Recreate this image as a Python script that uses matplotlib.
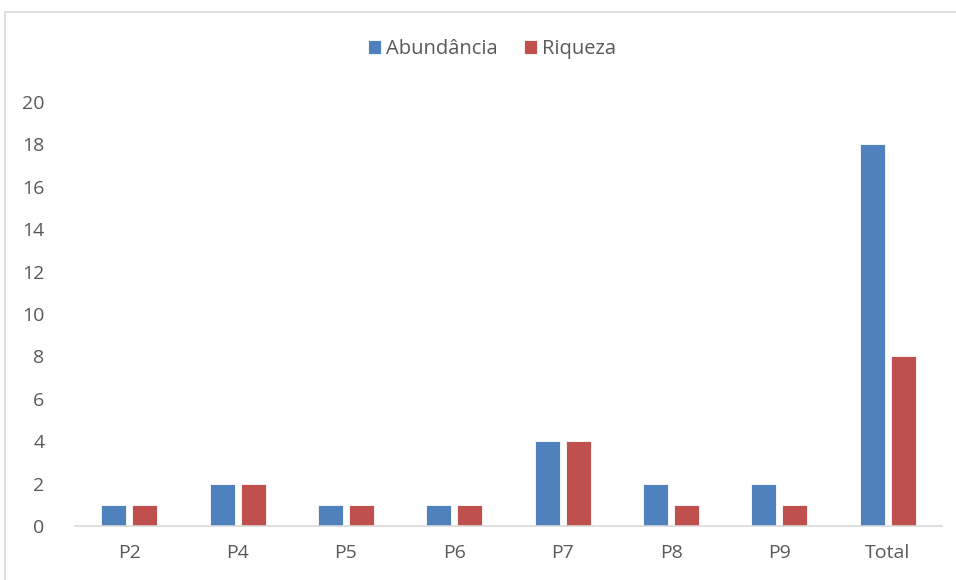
import matplotlib.pyplot as plt
import numpy as np
from matplotlib.patches import Rectangle

plt.rcParams['font.family'] = ['Open Sans', 'DejaVu Sans']

categorias = ['P2', 'P4', 'P5', 'P6', 'P7', 'P8', 'P9', 'Total']
abundancia = [1, 2, 1, 1, 4, 2, 2, 18]
riqueza = [1, 2, 1, 1, 4, 1, 1, 8]

azul = '#4F81BD'
vermelho = '#C0504D'
cinza = '#595959'

fig = plt.figure(figsize=(9.56, 5.8), dpi=100)
# moldura da área do gráfico
fig.patches.append(Rectangle((5 / 956, -0.1), 1.0, 1 - 12 / 580 + 0.1,
                             transform=fig.transFigure, fill=False,
                             edgecolor='#D9D9D9', linewidth=1.2))

ax = fig.add_axes([75 / 956, 1 - 526 / 580, 867 / 956, 424 / 580])
x = np.arange(len(categorias))
w = 0.23
ax.bar(x - w / 2 - 0.028, abundancia, w, color=azul, edgecolor='white', linewidth=0.6, label='Abundância')
ax.bar(x + w / 2 + 0.028, riqueza, w, color=vermelho, edgecolor='white', linewidth=0.6, label='Riqueza')

ax.set_xlim(-0.5, len(categorias) - 0.5)
ax.set_ylim(0, 20)
ax.set_yticks(range(0, 21, 2))
ax.set_xticks(x)
ax.set_xticklabels(categorias)
ax.tick_params(axis='both', length=0, labelsize=14, colors=cinza)
ax.tick_params(axis='x', pad=13)
ax.tick_params(axis='y', pad=22)
for s in ['top', 'right', 'left']:
    ax.spines[s].set_visible(False)
ax.spines['bottom'].set_color('#D9D9D9')
ax.spines['bottom'].set_linewidth(1.2)

leg = fig.legend(loc='center', bbox_to_anchor=(492 / 956, 1 - 49 / 580), ncol=2,
                 frameon=False, fontsize=14.5, handlelength=0.65, handleheight=0.65,
                 handletextpad=0.25, columnspacing=1.3)
for t in leg.get_texts():
    t.set_color(cinza)

plt.savefig('out.png', dpi=100)
